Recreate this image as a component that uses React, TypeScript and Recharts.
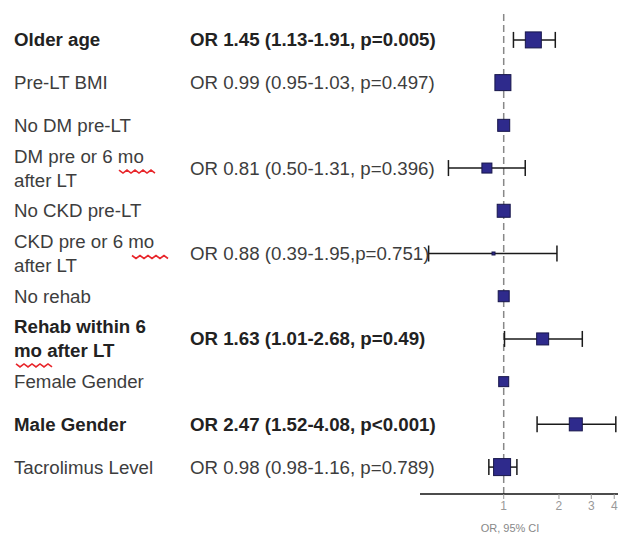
import React from 'react';
import {
  ScatterChart,
  Scatter,
  XAxis,
  YAxis,
  ErrorBar,
  ReferenceLine,
} from 'recharts';

// rows top to bottom
const labels: string[][] = [
  ['Older age'],
  ['Pre-LT BMI'],
  ['No DM pre-LT'],
  ['DM pre or 6 mo', 'after LT'],
  ['No CKD pre-LT'],
  ['CKD pre or 6 mo', 'after LT'],
  ['No rehab'],
  ['Rehab within 6', 'mo after LT'],
  ['Female Gender'],
  ['Male Gender'],
  ['Tacrolimus Level'],
];
const isBold = [true, false, false, false, false, false, false, true, false, true, false];
const orText = [
  'OR 1.45 (1.13-1.91, p=0.005)',
  'OR 0.99 (0.95-1.03, p=0.497)',
  '',
  'OR 0.81 (0.50-1.31, p=0.396)',
  '',
  'OR 0.88 (0.39-1.95,p=0.751)',
  '',
  'OR 1.63 (1.01-2.68, p=0.49)',
  '',
  'OR 2.47 (1.52-4.08, p<0.001)',
  'OR 0.98 (0.98-1.16, p=0.789)',
];
const oddsRatio = [1.45, 0.99, 1, 0.81, 1, 0.88, 1, 1.63, 1, 2.47, 0.98];
// whisker ends as drawn (null = reference group)
const ciLow = [1.13, 0.95, null, 0.5, null, 0.39, null, 1.01, null, 1.52, 0.83];
const ciHigh = [1.91, 1.03, null, 1.31, null, 1.95, null, 2.68, null, 4.08, 1.18];
const boxSize = [16, 16, 12, 10, 13, 3, 11, 12, 10, 13, 17];
const xTicks = [1, 2, 3, 4];

// red spell-check underlines from the source screenshot
const squiggles: Record<number, { x: number; w: number; dy: number }> = {
  3: { x: 111, w: 36, dy: 2 },
  5: { x: 124, w: 36, dy: 2 },
  7: { x: 8, w: 36, dy: 25 },
};

const points = oddsRatio.map((v, i) => ({
  x: v,
  y: i,
  size: boxSize[i],
  err: ciLow[i] == null ? null : [v - (ciLow[i] as number), (ciHigh[i] as number) - v],
}));
const ciPoints = points.filter((p) => p.err != null);

const FONT = '"Liberation Sans", Arial, Helvetica, sans-serif';

function wavy(x: number, y: number, w: number) {
  let d = `M${x},${y}`;
  const step = 4;
  for (let i = 0; i * step < w; i++) {
    d += ` L${x + (i + 1) * step},${y + (i % 2 === 0 ? 3 : 0)}`;
  }
  return d;
}

function RowTick(props: any) {
  const { y, payload } = props;
  const i = payload.value as number;
  const lines = labels[i];
  if (!lines) return null;
  const weight = isBold[i] ? 700 : 400;
  const color = isBold[i] ? '#222' : '#3d3d3d';
  const sq = squiggles[i];
  return (
    <g fontFamily={FONT} fontSize={18.7} fill={color} fontWeight={weight}>
      {lines.map((t, k) => (
        <text
          key={k}
          x={6}
          y={lines.length === 1 ? y : y + (k === 0 ? -12 : 12)}
          dominantBaseline="central"
        >
          {t}
        </text>
      ))}
      {orText[i] && (
        <text x={182} y={y} dominantBaseline="central">
          {orText[i]}
        </text>
      )}
      {sq && (
        <path d={wavy(sq.x, y + sq.dy, sq.w)} stroke="#e8262b" strokeWidth={1.6} fill="none" />
      )}
    </g>
  );
}

function Box(props: any) {
  const { cx, cy, payload } = props;
  const s = payload.size;
  return (
    <rect
      x={cx - s / 2}
      y={cy - s / 2}
      width={s}
      height={s}
      fill="#2e2a8c"
      stroke="#17164a"
      strokeWidth={1}
    />
  );
}

export default function App() {
  return (
    <ScatterChart
      width={618}
      height={530}
      margin={{ top: 2, right: 6, bottom: 0, left: 0 }}
      style={{ background: '#fff' }}
    >
      <XAxis
        type="number"
        dataKey="x"
        scale="log"
        domain={[0.35, 4.3]}
        allowDataOverflow
        ticks={xTicks}
        height={44}
        tickSize={5}
        tickMargin={2}
        stroke="#111"
        strokeWidth={1.5}
        tickLine={{ stroke: '#999', strokeWidth: 1 }}
        tick={{ fill: '#999', fontSize: 12, fontFamily: FONT }}
        label={{
          value: 'OR, 95% CI',
          position: 'insideBottom',
          offset: 6,
          dx: -10,
          fill: '#888',
          fontSize: 11,
          fontFamily: FONT,
        }}
      />
      <YAxis
        type="number"
        dataKey="y"
        reversed
        domain={[-0.7, 10.63]}
        allowDataOverflow
        ticks={labels.map((_, i) => i)}
        interval={0}
        width={412}
        axisLine={false}
        tickLine={false}
        tick={<RowTick />}
      />
      <ReferenceLine x={1} stroke="#888" strokeWidth={1.5} strokeDasharray="7 4" />
      <Scatter data={points} shape={<Box />} isAnimationActive={false} />
      <Scatter data={ciPoints} shape={() => <g />} isAnimationActive={false}>
        <ErrorBar dataKey="err" direction="x" width={8} stroke="#1a1a1a" strokeWidth={1.5} />
      </Scatter>
    </ScatterChart>
  );
}
